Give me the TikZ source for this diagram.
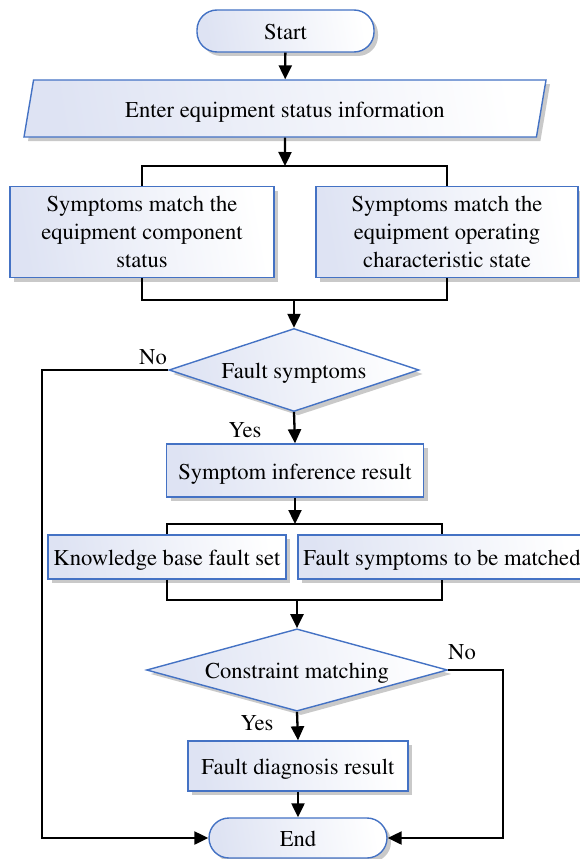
\documentclass[tikz,border=0pt]{standalone}
\usepackage[T1]{fontenc}
\usepackage{times}
\usetikzlibrary{shapes.geometric,shadows,arrows.meta}

\definecolor{edgeblue}{RGB}{68,114,196}
\definecolor{tintblue}{RGB}{222,227,243}

\tikzset{
  base/.style={draw=edgeblue, line width=1.4pt, left color=tintblue, right color=white,
    shading angle=100, text=black, font=\rmfamily\fontsize{22.6}{28}\selectfont,
    drop shadow={shadow xshift=4pt, shadow yshift=-4pt, opacity=0.3, fill=black!70}},
  terminal/.style={base, rectangle, rounded corners=20pt, inner sep=0pt},
  procbox/.style={base, rectangle, inner sep=0pt, align=center},
  oneline/.style={text height=19pt, text depth=2pt},
  iobox/.style={base, trapezium, trapezium left angle=65.5, trapezium right angle=114.5,
    trapezium stretches body, inner sep=0pt},
  decision/.style={base, diamond, inner sep=0pt, shape aspect=3},
  flow/.style={line width=2.3pt, draw=black},
  arrowflow/.style={flow, -{Triangle[length=14pt,width=13pt]}},
  lbl/.style={font=\rmfamily\fontsize{22.6}{26}\selectfont, text=black, inner sep=0pt}
}

\begin{document}
\begin{tikzpicture}[x=1pt, y=-1pt]
\useasboundingbox (0,0) rectangle (580,859);

% nodes
\node[terminal, oneline, minimum width=177pt, minimum height=42pt] (start) at (285.5,31) {Start};
\node[iobox, oneline, minimum width=522pt, minimum height=57pt] (enter) at (285,108.5) {Enter equipment status information};

\node[procbox, minimum width=264pt, minimum height=91pt] (comp) at (142,232) {Symptoms match the\\equipment component\\status};
\node[procbox, minimum width=262pt, minimum height=91pt] (oper) at (447,232) {Symptoms match the\\equipment operating\\characteristic state};

\node[decision, oneline, minimum width=250pt, minimum height=83pt] (fs) at (294,370) {Fault symptoms};
\node[procbox, oneline, minimum width=257pt, minimum height=53pt] (sir) at (295,470.5) {Symptom inference result};

\node[procbox, oneline, minimum width=238pt, minimum height=44pt] (kb) at (167,557) {Knowledge base fault set};
\node[procbox, oneline, minimum width=288pt, minimum height=44pt] (tbm) at (442,557) {Fault symptoms to be matched};

\node[decision, oneline, minimum width=301pt, minimum height=79pt] (cm) at (297,670) {Constraint matching};
\node[procbox, oneline, minimum width=220pt, minimum height=50pt] (fdr) at (298,766) {Fault diagnosis result};
\node[terminal, oneline, minimum width=178pt, minimum height=40pt] (end) at (298,838) {End};

% junction points of the two brackets
\coordinate (splitA) at (285,166);
\coordinate (mergeA) at (294,300);
\coordinate (splitB) at (295,524);
\coordinate (mergeB) at (297,600);
\coordinate (leftrail) at (42,370);
\coordinate (rightrail) at (503,670);

% connectors
\draw[arrowflow] (start) -- (enter);
\draw[arrowflow] (enter.south) -- (splitA);
\draw[flow] (comp.north) |- (splitA) -| (oper.north);
\draw[flow] (comp.south) |- (mergeA) -| (oper.south);
\draw[arrowflow] (mergeA) -- (fs.north);

\draw[arrowflow] (fs.south) -- (sir.north);
\draw[arrowflow] (sir.south) -- (splitB);
\draw[flow] (kb.north) |- (splitB) -| (tbm.north);
\draw[flow] (kb.south) |- (mergeB) -| (tbm.south);
\draw[arrowflow] (mergeB) -- (cm.north);

\draw[arrowflow] (cm.south) -- (fdr.north);
\draw[arrowflow] (fdr.south) -- (end.north);

\draw[arrowflow] (fs.west) -- (leftrail) |- (end.west);
\draw[arrowflow] (cm.east) -- (rightrail) |- (end.east);

% branch labels
\node[lbl] (no1) at (153,357) {No};
\node[lbl] (yes1) at (245,430) {Yes};
\node[lbl] (no2) at (462,652) {No};
\node[lbl] (yes2) at (257,723) {Yes};
\end{tikzpicture}
\end{document}
